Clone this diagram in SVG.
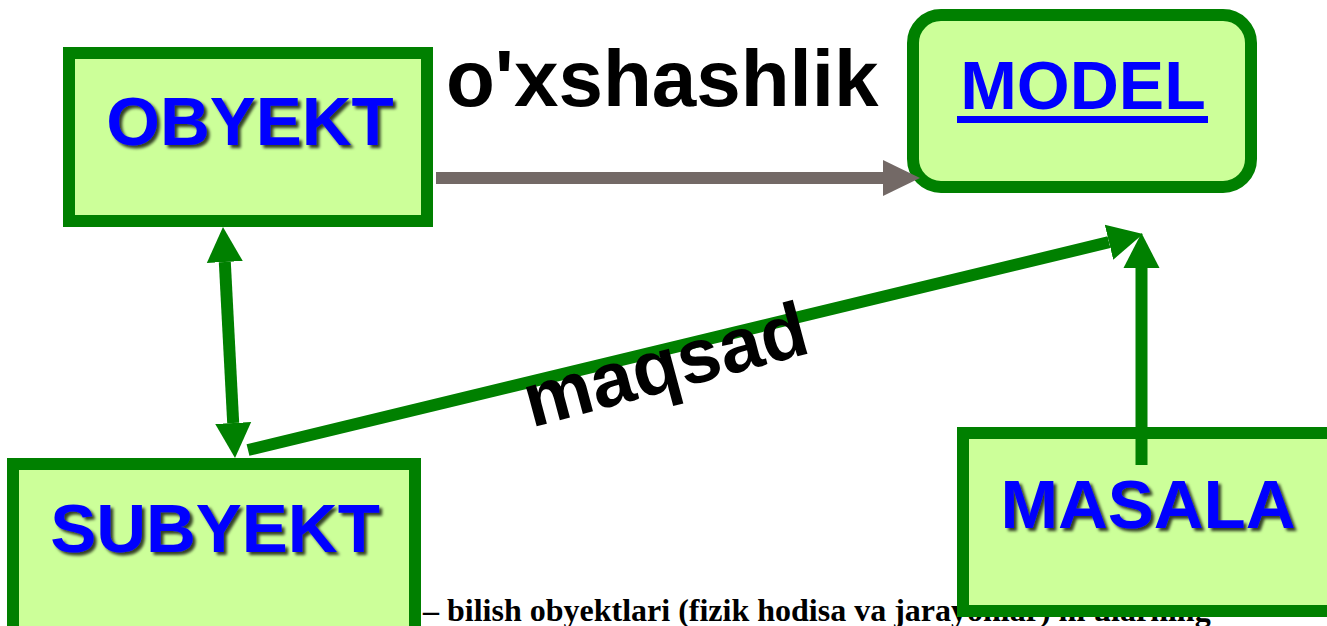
<svg xmlns="http://www.w3.org/2000/svg" width="1327" height="626" viewBox="0 0 1327 626">
  <style>
    .box { fill: #CCFF99; stroke: #008000; stroke-width: 12; }
    .lbl { font-family: "Liberation Sans", Arial, sans-serif; font-weight: bold; font-size: 69px; fill: #0000FF; text-anchor: middle; }
    .shadow { filter: url(#ts); }
    .big { font-family: "Liberation Sans", Arial, sans-serif; font-weight: bold; fill: #000; }
    .green { stroke: #008000; stroke-width: 12; fill: none; }
    .gray { stroke: #736966; stroke-width: 12; fill: none; }
    .note { font-family: "Liberation Serif", "Times New Roman", serif; font-weight: bold; font-size: 32px; fill: #000; }
  </style>
  <defs>
    <filter id="ts" x="-10%" y="-20%" width="130%" height="150%">
      <feDropShadow dx="3" dy="3" stdDeviation="1.5" flood-color="#000" flood-opacity="0.75"/>
    </filter>
    <marker id="ag" markerUnits="userSpaceOnUse" markerWidth="40" markerHeight="40" viewBox="0 -20 40 40" refX="0" refY="0" orient="auto-start-reverse">
      <path d="M0,-18 L35,0 L0,18 z" fill="#008000"/>
    </marker>
    <marker id="agr" markerUnits="userSpaceOnUse" markerWidth="40" markerHeight="40" viewBox="0 -20 40 40" refX="0" refY="0" orient="auto">
      <path d="M0,-18 L37,0 L0,18 z" fill="#736966"/>
    </marker>
  </defs>
  <rect width="1327" height="626" fill="#fff"/>

  <text class="note" x="423" y="621">– bilish obyektlari (fizik hodisa va jarayonlar) ni ularning</text>

  <g id="obyekt">
    <rect class="box" x="69" y="53" width="358" height="168"/>
    <text class="lbl shadow" x="250" y="145">OBYEKT</text>
  </g>
  <g id="model">
    <rect class="box" x="913" y="15" width="338" height="172" rx="28" ry="28"/>
    <text class="lbl" x="1083" y="109" style="font-size:68px">MODEL</text>
    <rect x="957" y="116" width="251" height="7" fill="#0000FF"/>
  </g>
  <g id="subyekt">
    <rect class="box" x="13" y="464" width="402" height="180"/>
    <text class="lbl shadow" x="215" y="552">SUBYEKT</text>
  </g>
  <g id="masala">
    <rect class="box" x="963" y="433" width="370" height="178"/>
    <text class="lbl shadow" x="1148" y="528">MASALA</text>
  </g>

  <g id="connectors">
    <line class="gray" x1="436" y1="178" x2="883" y2="178" marker-end="url(#agr)"/>
    <line class="green" x1="224.8" y1="262" x2="233.2" y2="423" marker-start="url(#ag)" marker-end="url(#ag)"/>
    <line class="green" x1="248" y1="450" x2="1109" y2="242.2" marker-end="url(#ag)"/>
    <line class="green" x1="1141.5" y1="465" x2="1141.5" y2="268" marker-end="url(#ag)"/>
    <text class="big" x="446" y="106" font-size="80">o'xshashlik</text>
    <text class="big" x="672" y="390" font-size="77" text-anchor="middle" transform="rotate(-15 672 390)">maqsad</text>
  </g>
</svg>
